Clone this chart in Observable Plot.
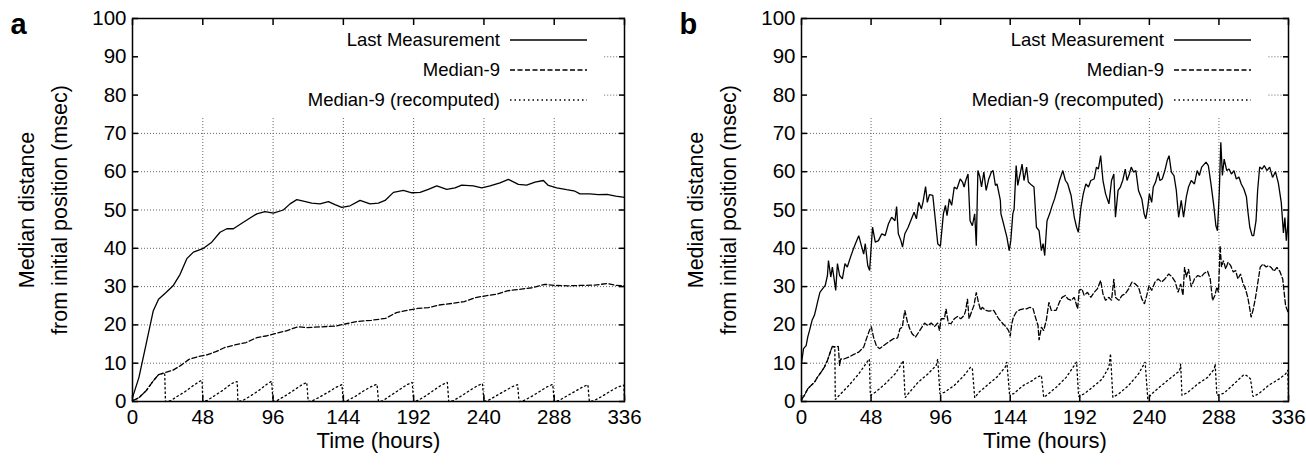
<!DOCTYPE html>
<html>
<head>
<meta charset="utf-8">
<script src="https://cdn.jsdelivr.net/npm/d3@7"></script>
<script src="https://cdn.jsdelivr.net/npm/@observablehq/plot@0.6"></script>
<style>
  html, body { margin: 0; padding: 0; background: #fff; }
  #wrap { display: flex; width: 1306px; height: 466px; overflow: hidden; }
</style>
</head>
<body>
<div id="wrap"></div>
<script>
// ---------- tick labels / text ----------
const xTicks = [0, 48, 96, 144, 192, 240, 288, 336];
const yTicks = [0, 10, 20, 30, 40, 50, 60, 70, 80, 90, 100];
const seriesNames = ["Last Measurement", "Median-9", "Median-9 (recomputed)"];
const xLabel = "Time (hours)";
const yLabel = "Median distance\nfrom initial position (msec)";

// ---------- panel a : [hours, msec] ----------
const aLast = [[0,1],[4.4,6.3],[9.3,15],[14.2,23.7],[17.8,26.7],[22.7,28.4],[27.7,30.2],[32.5,33.2],[37.1,37.3],[41.6,39],[48,39.9],[54.1,41.6],[59.8,44.2],[64.4,45.1],[68.9,45.1],[75.7,46.8],[84.9,49],[90.5,49.6],[96.2,49.2],[103,50],[107.6,51.6],[112.2,52.7],[116.7,52.3],[122.4,51.8],[128,51.6],[133.8,52.2],[138.3,51.4],[142.9,50.7],[148.6,51.1],[155.4,52.5],[162.2,51.6],[167.9,51.8],[172.5,52.5],[178.2,54.6],[185,55.1],[190.7,54.5],[196.4,54.6],[202,55.4],[207.8,56.3],[214.6,55.4],[220.3,55.8],[224.8,56.5],[232.8,56.3],[238.5,55.8],[244.2,56.3],[251,57.1],[256.7,58],[263.5,56.7],[269.2,56.5],[274.9,57.3],[280.6,57.7],[284,56.4],[289.7,55.8],[296.5,55.3],[302.2,54.9],[305.6,54.2],[312.4,54.2],[318,54],[324,54.1],[330,53.6],[336,53.3]];
const aMedian = [[0,0.2],[4.4,1],[9.3,2.8],[14.2,5.4],[17.8,7],[22.7,7.6],[27.7,8.2],[32.5,9.3],[38.6,11],[44.7,11.7],[50.8,12.2],[56.9,13],[63,14.1],[69.1,14.7],[77.6,15.4],[85,16.7],[91.1,17.1],[97.2,17.7],[104.5,18.4],[113,19.5],[119.2,19.3],[129,19.5],[138.7,19.7],[146,20.3],[153.3,20.9],[163,21.2],[172.8,21.7],[180.2,23.2],[187.5,23.8],[194.8,24.3],[202.1,24.5],[209.5,25.2],[218,25.6],[226.6,26.1],[233.9,27.1],[241.2,27.6],[248.5,28],[255.8,28.9],[264.4,29.3],[272.9,29.7],[281.5,30.6],[288.8,30.3],[297.4,30.2],[305.9,30.3],[315.7,30.4],[324.2,30.8],[330.3,30.3],[336,30.2]];
const aRecomp = [[0,0.2],[4.4,1],[9.3,2.8],[14.2,5.4],[17.8,7],[22,7.5],[22.5,0],[26,0.2],[30,1.2],[36,2.6],[42,4.3],[46,5.3],[47.5,5.5],[48,0],[51,0.3],[56,1.5],[62,3],[67,4.5],[70,5.1],[71.5,5.2],[72,0],[75,0.2],[80,1.3],[86,2.8],[91,4.3],[95,5.3],[96,0],[99,0.3],[104,1.4],[110,2.9],[115,4.2],[119,5],[120,0],[123,0.2],[128,1.2],[134,2.5],[139,3.7],[143,4.4],[144,0],[147,0.3],[152,1.3],[158,2.8],[163,3.9],[167,4.5],[168,0],[171,0.2],[176,1.5],[182,3],[187,4.3],[191,5],[192,0],[195,0.3],[200,1.4],[206,3],[211,4.3],[215,5],[216,0],[219,0.2],[224,1.3],[230,2.8],[235,4],[239,4.7],[240,0],[243,0.3],[248,1.4],[254,2.7],[259,3.8],[263,4.4],[264,0],[267,0.2],[272,1.2],[278,2.6],[283,3.8],[287,4.5],[288,0],[291,0.2],[296,1.3],[302,2.6],[307,3.7],[311,4.4],[312,0],[315,0.2],[320,1.2],[326,2.6],[331,3.7],[335.5,4.3],[336,0.5]];

// ---------- panel b : [hours, msec] ----------
const bLast = [[0,10],[1.4,13.8],[3.2,14.6],[4.3,16.8],[5.5,18.5],[7.3,21.2],[8.9,22.5],[10,24.2],[11.1,26],[12.7,28.5],[14.5,29.4],[16.4,30.3],[17.9,32.9],[18.6,36.8],[20.2,32.5],[21.3,35.1],[22.5,32],[23.6,29],[24.8,36],[26.3,32.9],[28.2,32],[30,36],[31.6,35.1],[33.8,37.7],[35.4,39.4],[37.2,41.2],[39.5,43.3],[41.3,40.7],[42.9,38.5],[44,41.2],[45.7,35.5],[47,34.2],[49,45.5],[50.9,41.6],[53.1,42],[55.4,43.8],[57.7,43.3],[60,46.4],[62.2,48.1],[64.5,47.2],[65.6,50.9],[66.8,43.8],[68.6,42],[69.7,40.3],[71.3,43.8],[73.6,45.5],[75.9,47.7],[77.7,49.4],[79.3,47.7],[80.9,52],[82.7,50.3],[83.8,52],[85.6,56.1],[86.8,52],[88.3,54],[90.6,53.8],[92.4,47.2],[94,41.2],[95.8,40.5],[97.9,49],[99.3,51.2],[100.4,48.5],[102,52.9],[103.6,51.2],[105.4,56],[107.2,55.5],[109.5,58.1],[111.1,57.3],[112.2,56],[113.3,57.7],[114.9,59.4],[116.3,47.2],[117.9,45.9],[119.5,49],[120.6,40.7],[121.7,60.3],[123.1,58.6],[124.2,56],[125.8,59.9],[127.4,55.1],[129.2,58.1],[131,59.9],[132.2,60.3],[133.8,56.4],[134.9,56.8],[137.2,52.5],[137.6,49],[139.4,46.4],[141.7,42.9],[143.3,39.4],[144.4,42],[145.8,49],[146.7,50.3],[148.1,61.6],[149.2,56.4],[150.8,59.4],[152.2,62],[153.5,57.7],[155.3,61.2],[156.5,57.3],[158.7,56.5],[160.4,56],[162.1,45.5],[163.9,44.6],[165.5,39.4],[166.7,41.2],[167.8,38.1],[169.4,47.2],[171.2,49],[173,51.2],[174.6,52.9],[176.2,55.1],[178,57.7],[180.3,60.3],[182.1,57.7],[183.7,56.8],[186,53.8],[188.2,48.1],[189.8,45.5],[191,44.2],[192.8,50.7],[194.4,54.2],[196.2,56.8],[198,56],[199.6,57.7],[201.9,58.1],[203.5,61.2],[204.8,60.7],[206.4,64.2],[208,57.7],[209.8,54.2],[212.1,51.6],[213.9,57.7],[215.5,59.4],[216.6,48.1],[218.4,55.1],[220,56],[221.6,57.7],[223.4,60.7],[224.6,57.7],[226.2,59.4],[227.5,61.2],[229.1,59.9],[230.7,60.3],[232.5,55.1],[234.8,52.9],[236.4,49],[237.5,47.7],[238.9,50.7],[240,54.2],[241.6,52],[242.7,56],[244.3,57.3],[246.1,59.9],[247.3,57.7],[248.9,58.1],[250.7,60.3],[252.3,62.9],[253.6,64.2],[255.2,59.9],[257,59],[258.6,55.1],[260.2,48.1],[262,52.5],[263.6,48.1],[265.5,53.4],[267,56],[268.9,57.7],[271.1,56.8],[273,60.3],[274.5,59],[276.1,61.2],[279.1,62.5],[280.7,61.6],[282.5,56.8],[284.3,51.6],[285.9,45.9],[287,44.6],[288.2,54.2],[289.3,67.7],[290.4,59],[291.6,63.3],[293.4,60.3],[295,60.7],[296.6,59.4],[298.4,60.3],[300,58.1],[301.8,58.6],[303.4,56.8],[305.2,55.5],[307,53.4],[307.9,49.9],[309.3,45.5],[310.9,43.3],[312,43.3],[313.6,47.2],[314.7,55.1],[316.1,61.2],[317.7,60.7],[319.3,61.6],[321.1,60.3],[323,61.2],[325,58.5],[327,60],[329,57],[331,52],[332.5,44],[333.5,48],[334.5,42],[335.5,46],[336,50]];
const bMedian = [[0,0.5],[2,1.6],[4.3,3.3],[6.6,4.2],[8.9,5],[11.1,6.4],[13.4,7.6],[15.7,8.9],[17.9,10.7],[20.2,13.3],[21.3,14.4],[23.6,14.2],[25.4,14.4],[26.3,9.4],[27,11.1],[29.3,11.1],[32.7,11.6],[36.1,12.3],[39.5,12.9],[42.9,14.2],[45.2,16.8],[46.8,18.5],[48.1,19.6],[49.7,16.8],[51.6,14.6],[53.8,13.8],[56.6,14.6],[60,15.5],[63.4,16.4],[66.3,16.6],[67.9,19],[69.5,19.4],[71.3,23.8],[73.1,20.7],[74.7,19],[76.3,17.7],[78.6,16.8],[80.9,18.1],[83.1,19.4],[84.9,20.5],[87.2,19.8],[89.5,20.5],[91.8,19.6],[94,20.5],[95.2,18.5],[96.3,21.6],[98.6,21.6],[99.7,24.2],[101.3,20.5],[103.1,20.3],[105.4,21.6],[107.7,22.2],[109.9,21.6],[112.2,22.5],[113.3,23.8],[114.5,26.8],[115.6,21.6],[117.2,23.3],[119,25.1],[120.6,28.5],[122,26],[123.6,23.8],[124.7,24.6],[127,23.8],[129.2,23.6],[132.6,23.8],[136,21.6],[139,20.3],[141.3,19.4],[142.9,18.5],[144,17],[145.1,20.3],[146.2,22],[148.1,23.3],[150.4,23.9],[153.1,24.2],[155.3,24.2],[157.6,24.6],[159.8,24.2],[161,22.5],[163.2,19.8],[163.9,16],[165.5,19.4],[167.1,18.5],[168.9,21.2],[170.7,25.9],[172.3,23.8],[175.7,23.8],[178,26],[179.8,27.2],[182.1,27.7],[183.7,26.8],[186,26.4],[188.2,27.2],[190.5,24.2],[191.6,29],[193.5,29.4],[195,27.7],[197.3,28.5],[199.6,27.2],[201.9,28.5],[204.1,29.4],[206.4,31.6],[208,28.1],[209.8,26.4],[212.1,27.2],[213.9,26.4],[215.5,32],[216.6,27.2],[218.9,26.4],[221.2,27.7],[223.4,28.1],[225.7,29.4],[228,31.2],[230.3,30.7],[232.5,29.9],[234.8,26.8],[236.6,25.5],[238.2,27.7],[239.8,30.3],[241.6,29],[243.9,31.2],[246.1,32],[248.4,31.2],[250.7,32],[253.4,33.3],[255.7,32.5],[257.9,31.2],[259.8,28.5],[261.6,30.7],[263.2,27.7],[264.3,35.1],[265.5,32.5],[267,34.6],[268.9,29.9],[271.1,32],[273.4,32.9],[275.7,32.5],[277.9,33.5],[280.2,34],[282,32],[283.6,26.4],[285.2,27.7],[286.6,29.9],[287.7,28.5],[288.8,40.7],[289.8,35.1],[291.1,36.8],[292.7,34.6],[294.3,36.4],[296.1,35.5],[297.9,33.8],[299.5,34.2],[301.1,32],[302.9,33.3],[304.7,30.7],[306.3,29.4],[307.9,27.2],[309.3,24.2],[310.2,22],[311.5,23.8],[313.1,26.8],[314.7,30.7],[316.5,35.1],[318.4,35.9],[320.6,35.1],[322.2,35.5],[324,35],[326,34],[328,35],[330,34],[332,32],[334,25],[335,24],[336,23]];
const bRecomp = [[0,0.5],[2,1.6],[4.3,3.3],[6.6,4.2],[8.9,5],[11.1,6.4],[13.4,7.6],[15.7,8.9],[17.9,10.7],[20.2,13.3],[21.3,14.4],[23,14.2],[23.3,0.5],[26,1.6],[32.7,4.2],[39.5,7.2],[45.2,10.3],[46.8,11.1],[47.5,1.6],[50.9,2.4],[57.7,4.6],[64.5,7.2],[69,9.8],[70.2,10.7],[71.5,1],[73.6,2],[80.4,5],[87.2,7.2],[92.9,9.4],[94,11.1],[95.5,2],[98.6,2.4],[105.4,4.2],[112.2,6.8],[116.7,9],[117.9,8.5],[119.5,1],[122.4,2.4],[129.2,4.6],[134.9,6.4],[140.6,9],[141.7,10.3],[143.5,2],[146.2,2],[153.1,4.2],[159.9,5.6],[162.1,6.3],[165.5,6.8],[167.1,1.1],[169,1.6],[175.7,3.7],[182.6,6.3],[188.2,9.4],[189.8,10.3],[191.2,1.3],[195,2],[200.7,3.7],[207.5,5.9],[212.1,9],[213.2,12.5],[214.8,1.1],[218.9,2],[225.7,4.2],[232.5,7.2],[237.1,10.3],[238.9,0.7],[241.6,2],[248.4,4.2],[255.2,6.3],[260.9,8],[261.6,9.8],[262.5,1.6],[266.6,2.4],[273.4,4.6],[280.2,6.3],[284.8,8.5],[285.4,9.8],[286.6,1.6],[291.6,2.2],[298.4,4.6],[305.2,7],[307,6.8],[309.8,5.9],[311.5,1.3],[315.4,2],[322.2,4.2],[330,6],[334,7.2],[335.5,8.2],[336,1]];

// ---------- drawing ----------
const FONT = "'Liberation Sans', Arial, Helvetica, sans-serif";
const styles = [
  {strokeDasharray: null},
  {strokeDasharray: "5,2.5"},
  {strokeDasharray: "1.5,3"}
];
const gridTop = 74.2;     // grid stops below the key
const keyRight = 322.5;   // key box right edge (hours)

function panel(letter, series, marginLeft, marginRight) {
  const width = 653, height = 466, marginTop = 18, marginBottom = 65;
  const gridStyle = {stroke: "#666", strokeWidth: 1, strokeDasharray: "1,2"};
  const plot = Plot.plot({
    width, height, marginLeft, marginRight, marginTop, marginBottom,
    style: {fontFamily: FONT, background: "#fff", color: "#000", overflow: "visible"},
    x: {domain: [0, 336]},
    y: {domain: [0, 100]},
    marks: [
      Plot.ruleX(xTicks.slice(1, -1), {x: d => d, y1: 0, y2: gridTop, ...gridStyle}),
      Plot.ruleY(yTicks.filter(v => v > 0 && v <= 70), {y: d => d, ...gridStyle}),
      Plot.ruleY(yTicks.filter(v => v > 70 && v < 100), {y: d => d, x1: keyRight, x2: 336, ...gridStyle}),
      ...series.map((data, i) => Plot.line(data, {
        x: d => d[0], y: d => d[1], stroke: "#000", strokeWidth: 1.3,
        strokeDasharray: styles[i].strokeDasharray, strokeLinejoin: "miter"
      })),
      Plot.frame({stroke: "#000", strokeWidth: 1.5}),
      Plot.axisX({anchor: "bottom", ticks: xTicks, tickSize: -6, tickPadding: 14, fontSize: 20.5, strokeWidth: 1.5, label: null}),
      Plot.axisX({anchor: "top", ticks: xTicks, tickSize: -6, tickFormat: () => "", strokeWidth: 1.5, label: null}),
      Plot.axisY({anchor: "left", ticks: yTicks, tickSize: -6, tickPadding: 12, fontSize: 20.5, strokeWidth: 1.5, label: null}),
      Plot.axisY({anchor: "right", ticks: yTicks, tickSize: -6, tickFormat: () => "", strokeWidth: 1.5, label: null}),
      Plot.text([xLabel], {text: d => d, frameAnchor: "bottom", dy: 46, fontSize: 22}),
      Plot.text([yLabel], {text: d => d, frameAnchor: "left", dx: -93, rotate: -90, fontSize: 21.5, lineHeight: 1.55, textAnchor: "middle"}),
      Plot.text([letter], {text: d => d, frameAnchor: "top-left", dx: -122, dy: -5, fontSize: 29, fontWeight: "bold"})
    ]
  });
  // key (legend) at the top right inside the frame
  const svg = d3.select(plot);
  const right = width - marginRight;
  const key = svg.append("g").attr("font-family", FONT).attr("font-size", 18.5);
  seriesNames.forEach((name, i) => {
    const y = marginTop + 22 + i * 30;
    key.append("text").attr("x", right - 124).attr("y", y).attr("dy", "0.35em")
      .attr("text-anchor", "end").attr("fill", "#000").text(name);
    key.append("line").attr("x1", right - 114).attr("x2", right - 37)
      .attr("y1", y).attr("y2", y).attr("stroke", "#000").attr("stroke-width", 1.3)
      .attr("stroke-dasharray", styles[i].strokeDasharray);
  });
  return plot;
}

const wrap = document.getElementById("wrap");
wrap.appendChild(panel("a", [aLast, aMedian, aRecomp], 132, 29));
wrap.appendChild(panel("b", [bLast, bMedian, bRecomp], 148, 18));
</script>
</body>
</html>
